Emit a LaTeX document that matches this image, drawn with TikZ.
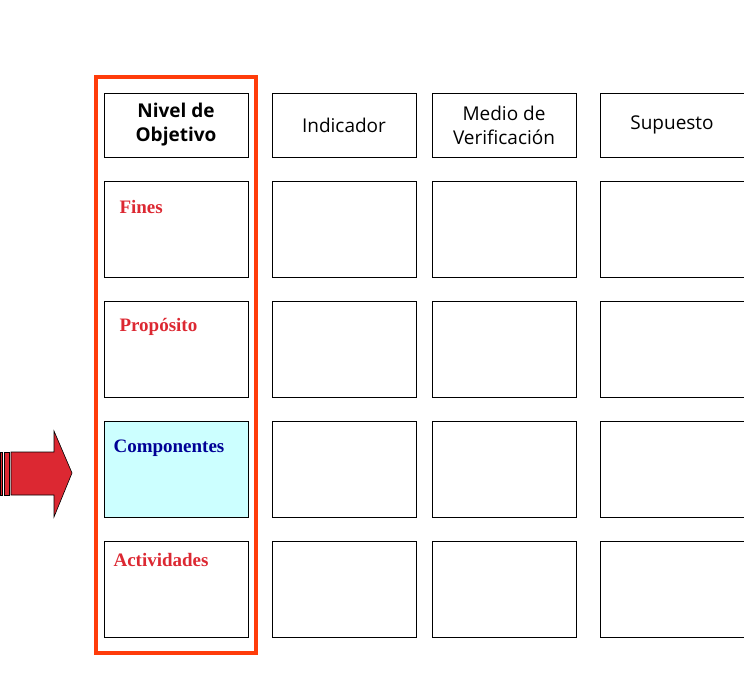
\documentclass[tikz,border=0pt]{standalone}
\usepackage{fontspec}
\setmainfont{Liberation Serif}
\newfontfamily\hdfont{Open Sans}
\definecolor{lblred}{RGB}{220,40,50}
\definecolor{navy}{RGB}{0,0,150}
\definecolor{frame}{RGB}{255,60,10}
\definecolor{cyanfill}{RGB}{204,255,255}
\begin{document}
\begin{tikzpicture}[x=1pt,y=-1pt,
  cell/.style={draw=black,line width=0.6pt},
  hd/.style={font=\hdfont\fontsize{19}{24}\selectfont,align=center},
  lbl/.style={font=\bfseries\fontsize{19}{22}\selectfont,text=lblred,anchor=west}]
\useasboundingbox (0,0) rectangle (744,686);
\foreach \x/\n in {104/a,272/b,432/c,600/d}{
  \draw[cell] (\x,93) rectangle ++(144,64);
  \foreach \y/\r in {181/1,301/2,421/3,541/4}{
    \draw[cell] (\x,\y) rectangle ++(144,96);
  }
}
\fill[cyanfill] (104,421) rectangle ++(144,96);
\draw[cell] (104,421) rectangle ++(144,96);
\node[hd,font=\hdfont\bfseries\fontsize{19}{24}\selectfont] (h1) at (176,125) {Nivel de\\Objetivo};
\node[hd] (h2) at (344,125) {Indicador};
\node[hd] (h3) at (504,125) {Medio de\\Verificación};
\node[hd] (h4) at (672,125) {Supuesto};
\node[lbl] (l1) at (116,207) {Fines};
\node[lbl] (l2) at (116,327) {Propósito};
\node[lbl,text=navy] (l3) at (110,448) {Componentes};
\node[lbl] (l4) at (110,560) {Actividades};
\draw[frame,line width=3.5pt] (96,77) rectangle (256,653);
\begin{scope}[fill=lblred,draw=black,line width=0.6pt]
\filldraw (0,452) rectangle (2,495);
\filldraw (4,452) rectangle (9,495);
\filldraw (11,452) -- (54,452) -- (54,431) -- (72,473) -- (54,517) -- (54,495) -- (11,495) -- cycle;
\end{scope}
\end{tikzpicture}
\end{document}
